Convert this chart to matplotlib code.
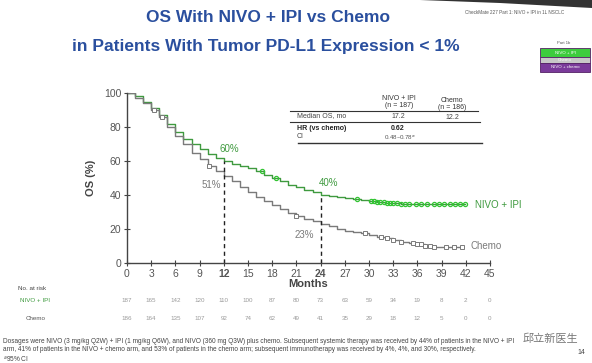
import numpy as np
import matplotlib
matplotlib.use("Agg")
import matplotlib.pyplot as plt
import matplotlib.transforms as mtransforms
from matplotlib.lines import Line2D
from matplotlib.patches import Rectangle, Polygon

plt.rcParams['font.family'] = ['Liberation Sans', 'DejaVu Sans']

# curves (months, OS %)
nivo_t = [0, 1, 2, 3, 4, 5, 6, 7, 8, 9, 10, 11, 12, 13, 14, 15, 16, 17, 18, 19, 20, 21, 22, 23,
          24, 25, 26, 27, 28, 29, 30, 31, 32, 34, 37, 39, 41.9]
nivo_s = [100, 98, 95, 91, 87, 82, 77, 73, 70, 67, 64, 62, 60, 58.5, 57, 56, 54, 52, 50, 48, 46, 44.5, 43, 41.5,
          40, 39.5, 39, 38, 37.5, 37, 36.5, 36, 35.5, 35, 35, 34.5, 34.5]
chemo_t = [0, 1, 2, 3, 4, 5, 6, 7, 8, 9, 10, 11, 12, 13, 14, 15, 16, 17, 18, 19, 20, 21, 22, 23,
           24, 25, 26, 27, 28, 29, 30, 31, 32, 33, 34, 35, 36, 37, 38, 41.6]
chemo_s = [100, 97, 94, 90, 86, 80, 75, 70, 65, 61, 57, 54, 51, 48, 45, 42, 39, 36.5, 34, 31.5, 29.5, 27.5, 26, 24.5,
           23, 21.5, 20, 19, 18, 17.5, 16.5, 15.5, 14.5, 13.5, 12.5, 11.5, 11, 10, 9.5, 9.5]

# censor times
nivo_cens = [16.7, 18.5, 28.5, 30.2, 30.6, 31.0, 31.4, 31.8, 32.2, 32.6, 33.0, 33.5, 34.0, 34.5, 35.0,
             35.8, 36.5, 37.2, 38.0, 38.7, 39.3, 40.0, 40.7, 41.3, 41.9]
chemo_cens = [3.3, 4.4, 10.2, 21.0, 29.5, 31.5, 32.2, 33.0, 34.0, 35.5, 36.0, 36.5, 37.0, 37.5, 38.0,
              39.5, 40.5, 41.5]

months = [0, 3, 6, 9, 12, 15, 18, 21, 24, 27, 30, 33, 36, 39, 42, 45]
risk_nivo = [187, 165, 142, 120, 110, 100, 87, 80, 73, 63, 59, 34, 19, 8, 2, 0]
risk_chemo = [186, 164, 135, 107, 92, 74, 62, 49, 41, 35, 29, 18, 12, 5, 0, 0]

W, H = 592, 363
GREEN = '#3f9a3f'
GREEN_MK = '#33c433'
GRAY = '#7a7a7a'
BLUE = '#2a4f9e'


def px(x, y):
    return x / W, 1 - y / H


def step_at(t, s, c):
    i = np.searchsorted(t, c, side='right') - 1
    return np.array(s)[i]


fig = plt.figure(figsize=(W / 100, H / 100), dpi=100)
fig.patch.set_facecolor('white')
l, b = px(127, 263)
r, tp = px(490, 93)
ax = fig.add_axes([l, b, r - l, tp - b])

ax.step(nivo_t, nivo_s, where='post', color=GREEN, lw=1.0)
ax.step(chemo_t, chemo_s, where='post', color=GRAY, lw=1.0)
ax.plot(nivo_cens, step_at(nivo_t, nivo_s, nivo_cens), 'o', ms=3, mfc='none', mec=GREEN_MK, mew=0.9)
ax.plot(chemo_cens, step_at(chemo_t, chemo_s, chemo_cens), 's', ms=3.2, mfc='white', mec=GRAY, mew=0.7)

# dashed landmark lines
for m in [12, 24]:
    top = step_at(nivo_t, nivo_s, [m])[0]
    ax.plot([m, m], [0, top], ls=(0, (3, 2.5)), color='#222222', lw=1.0)

ax.text(12.7, 64, '60%', color=GREEN, fontsize=7, ha='center', va='bottom')
ax.text(10.4, 46, '51%', color=GRAY, fontsize=7, ha='center', va='center')
ax.text(25, 44, '40%', color=GREEN, fontsize=7, ha='center', va='bottom')
ax.text(22, 16.5, '23%', color=GRAY, fontsize=7, ha='center', va='center')
ax.text(43.2, 34, 'NIVO + IPI', color=GREEN, fontsize=7, ha='left', va='center', clip_on=False)
ax.text(42.6, 10, 'Chemo', color=GRAY, fontsize=7, ha='left', va='center', clip_on=False)

ax.set_xlim(0, 45)
ax.set_ylim(0, 100)
ax.set_xticks(months)
ax.set_yticks([0, 20, 40, 60, 80, 100])
ax.set_xticklabels([str(m) for m in months])
for lab in ax.get_xticklabels():
    if lab.get_text() in ('12', '24'):
        lab.set_fontweight('bold')
        lab.set_color('#222222')
ax.tick_params(axis='both', labelsize=7.5, labelcolor='#555555', color='#444444', direction='inout', length=4, width=0.8, pad=2)
for sp in ['top', 'right']:
    ax.spines[sp].set_visible(False)
for sp in ['left', 'bottom']:
    ax.spines[sp].set_color('#444444')
    ax.spines[sp].set_linewidth(1.0)
ax.set_xlabel('Months', fontsize=8, fontweight='bold', color='#444444', labelpad=0)
ax.set_ylabel('OS (%)', fontsize=8, fontweight='bold', color='#444444', labelpad=6)

# risk table
trans = mtransforms.blended_transform_factory(ax.transData, fig.transFigure)
fig.text(*px(18, 288), 'No. at risk', fontsize=4.5, color='#444444', va='center')
fig.text(*px(20, 300), 'NIVO + IPI', fontsize=4.5, color=GREEN, va='center')
fig.text(*px(26, 318), 'Chemo', fontsize=4.5, color='#555555', va='center')
for m, a, c in zip(months, risk_nivo, risk_chemo):
    ax.text(m, px(0, 300)[1], str(a), transform=trans, fontsize=4.5, color='#9a9a9a', ha='center', va='center')
    ax.text(m, px(0, 318)[1], str(c), transform=trans, fontsize=4.5, color='#9a9a9a', ha='center', va='center')

# summary table
def hline(x0, x1, y, lw=0.8):
    fig.add_artist(Line2D([px(x0, y)[0], px(x1, y)[0]], [px(x0, y)[1], px(x1, y)[1]], color='#333333', lw=lw))

fig.text(*px(399, 102), 'NIVO + IPI\n(n = 187)', fontsize=5, color='#333333', ha='center', va='center', linespacing=1.1)
fig.text(*px(452, 104), 'Chemo\n(n = 186)', fontsize=5, color='#333333', ha='center', va='center', linespacing=1.1)
hline(290, 478, 111)
fig.text(*px(297, 116), 'Median OS, mo', fontsize=5, color='#444444', va='center')
fig.text(*px(398, 116), '17.2', fontsize=5, color='#444444', ha='center', va='center')
fig.text(*px(452, 118), '12.2', fontsize=5, color='#444444', ha='center', va='center')
hline(290, 480, 122)
fig.text(*px(297, 128), 'HR (vs chemo)', fontsize=5, color='#222222', fontweight='bold', va='center')
fig.text(*px(398, 128), '0.62', fontsize=5, color='#222222', fontweight='bold', ha='center', va='center')
fig.text(*px(297, 137), 'CI', fontsize=5, color='#444444', va='center')
fig.text(*px(400, 138), '0.48\u20130.78$^{a}$', fontsize=4.5, color='#555555', ha='center', va='center')
hline(298, 482, 143, lw=1.0)

# titles
fig.text(*px(268, 18), 'OS With NIVO + IPI vs Chemo', fontsize=12.5, fontweight='bold', color=BLUE,
         ha='center', va='center')
fig.text(*px(266, 46), 'in Patients With Tumor PD-L1 Expression < 1%', fontsize=12.5, fontweight='bold', color=BLUE,
         ha='center', va='center')

# top right corner
fig.add_artist(Polygon([px(420, 0), px(592, 0), px(592, 8), px(500, 3)], closed=True, transform=fig.transFigure,
                       facecolor='#333333', edgecolor='none'))
fig.text(*px(515, 12), 'CheckMate 227 Part 1: NIVO + IPI in 1L NSCLC', fontsize=3.3, color='#555555', ha='center', va='center')
fig.text(*px(564, 43), 'Part 1b', fontsize=3, color='#555555', ha='center', va='center')
for (y0, hgt, col, txt) in [(48, 9, '#3dcc3d', 'NIVO + IPI'), (57, 6, '#c8c8c8', 'Chemo'), (63, 9, '#7a3a9a', 'NIVO + chemo')]:
    x0, y1 = px(540, y0 + hgt)
    fig.add_artist(Rectangle((x0, y1), 50 / W, hgt / H, transform=fig.transFigure, facecolor=col,
                             edgecolor='#552266', lw=0.6))
    fig.text(*px(565, y0 + hgt / 2), txt, fontsize=3.2, color='white', ha='center', va='center')

# footnote
foot = ('Dosages were NIVO (3 mg/kg Q2W) + IPI (1 mg/kg Q6W), and NIVO (360 mg Q3W) plus chemo. Subsequent systemic therapy was received by 44% of patients in the NIVO + IPI\n'
        'arm, 41% of patients in the NIVO + chemo arm, and 53% of patients in the chemo arm; subsequent immunotherapy was received by 4%, 4%, and 30%, respectively.\n'
        '$^{a}$95% CI')
fig.text(*px(3, 351), foot, fontsize=4.7, color='#444444', ha='left', va='center', linespacing=1.2)
fig.text(*px(581, 352), '14', fontsize=5, color='#444444', ha='center', va='center')
fig.text(*px(550, 339), '邱立新医生', fontsize=8, color='#777777', ha='center', va='center',
         family=['Noto Sans CJK SC', 'DejaVu Sans'])

fig.savefig('out.png', dpi=100)
